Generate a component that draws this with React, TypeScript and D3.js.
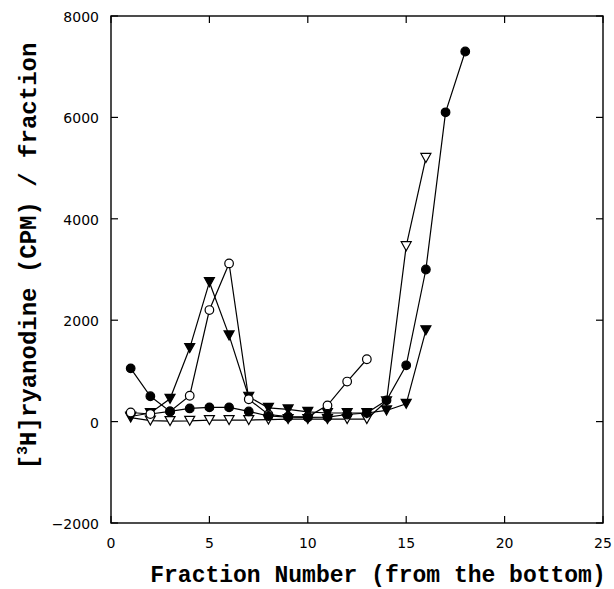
import React from "react";
import * as d3 from "d3";

const xTicks = [0, 5, 10, 15, 20, 25];
const yTicks = [-2000, 0, 2000, 4000, 6000, 8000];

const filledCircleX = [1, 2, 3, 4, 5, 6, 7, 8, 9, 10, 11, 12, 13, 14, 15, 16, 17, 18];
const filledCircleY = [1050, 500, 200, 260, 280, 280, 200, 110, 90, 85, 90, 140, 170, 420, 1110, 3000, 6100, 7300];

const openCircleX = [1, 2, 3, 4, 5, 6, 7, 8, 9, 10, 11, 12, 13];
const openCircleY = [180, 150, 200, 510, 2200, 3120, 440, 140, 100, 95, 320, 790, 1230];

const filledTriX = [1, 2, 3, 4, 5, 6, 7, 8, 9, 10, 11, 12, 13, 14, 15, 16];
const filledTriY = [100, 170, 450, 1450, 2750, 1700, 490, 270, 240, 190, 170, 170, 170, 220, 350, 1800];

const openTriX = [1, 2, 3, 4, 5, 6, 7, 8, 9, 10, 11, 12, 13, 14, 15, 16];
const openTriY = [80, 20, 10, 15, 30, 30, 30, 40, 50, 50, 50, 50, 50, 400, 3460, 5200];

const xLabel = "Fraction Number (from the bottom)";

type Series = { xs: number[]; ys: number[]; shape: "circle" | "tri"; filled: boolean };

const series: Series[] = [
  { xs: openTriX, ys: openTriY, shape: "tri", filled: false },
  { xs: filledTriX, ys: filledTriY, shape: "tri", filled: true },
  { xs: openCircleX, ys: openCircleY, shape: "circle", filled: false },
  { xs: filledCircleX, ys: filledCircleY, shape: "circle", filled: true },
];

export default function App() {
  const W = 614, H = 589;
  const x = d3.scaleLinear().domain([0, 25]).range([111, 603]);
  const y = d3.scaleLinear().domain([-2000, 8000]).range([523, 16]);
  const [x0, x1] = x.range();
  const [yb, yt] = y.range();
  const tl = 7;
  const line = d3.line<[number, number]>().x((d) => x(d[0])).y((d) => y(d[1]));
  const triPath = (cx: number, cy: number) => {
    const w = 5, h = 4.5;
    return `M${cx - w},${cy - h}L${cx + w},${cy - h}L${cx},${cy + h}Z`;
  };
  const monoFont = "'Liberation Mono', 'DejaVu Sans Mono', monospace";
  return (
    <svg width={W} height={H} style={{ position: "absolute", left: 0, top: 0, background: "#fff" }}>
      <rect x={0} y={0} width={W} height={H} fill="#fff" />
      <rect x={x0} y={yt} width={x1 - x0} height={yb - yt} fill="none" stroke="#000" strokeWidth={1.4} />
      {xTicks.map((t) => (
        <g key={"xt" + t}>
          <line x1={x(t)} x2={x(t)} y1={yb} y2={yb - tl} stroke="#000" strokeWidth={1.2} />
          <line x1={x(t)} x2={x(t)} y1={yt} y2={yt + tl} stroke="#000" strokeWidth={1.2} />
          <text x={x(t)} y={548} textAnchor="middle" fontFamily="'DejaVu Sans', sans-serif" fontSize={14} fill="#000">
            {t}
          </text>
        </g>
      ))}
      {yTicks.map((t) => (
        <g key={"yt" + t}>
          <line x1={x0} x2={x0 + tl} y1={y(t)} y2={y(t)} stroke="#000" strokeWidth={1.2} />
          <line x1={x1} x2={x1 - tl} y1={y(t)} y2={y(t)} stroke="#000" strokeWidth={1.2} />
          <text x={99} y={y(t) + 6} textAnchor="end" fontFamily="'DejaVu Sans', sans-serif" fontSize={14} fill="#000">
            {t < 0 ? "\u2212" + Math.abs(t) : t}
          </text>
        </g>
      ))}
      {series.map((s, i) => {
        const pts: [number, number][] = s.xs.map((v, k) => [v, s.ys[k]]);
        return (
          <g key={"s" + i}>
            <path d={line(pts) || ""} fill="none" stroke="#000" strokeWidth={1.2} />
            {pts.map((p, k) =>
              s.shape === "circle" ? (
                <circle key={k} cx={x(p[0])} cy={y(p[1])} r={4.3} fill={s.filled ? "#000" : "#fff"} stroke="#000" strokeWidth={1.2} />
              ) : (
                <path key={k} d={triPath(x(p[0]), y(p[1]))} fill={s.filled ? "#000" : "#fff"} stroke="#000" strokeWidth={1.2} />
              )
            )}
          </g>
        );
      })}
      <text x={378} y={582} textAnchor="middle" fontFamily={monoFont} fontWeight="bold" fontSize={23} fill="#000">
        {xLabel}
      </text>
      <text
        transform={`translate(36, ${256}) rotate(-90)`}
        textAnchor="middle"
        fontFamily={monoFont}
        fontWeight="bold"
        fontSize={24}
        fill="#000"
      >
        <tspan>[</tspan>
        <tspan dy={-9} fontSize={15}>3</tspan>
        <tspan dy={9}>H]ryanodine (CPM) / fraction</tspan>
      </text>
    </svg>
  );
}
